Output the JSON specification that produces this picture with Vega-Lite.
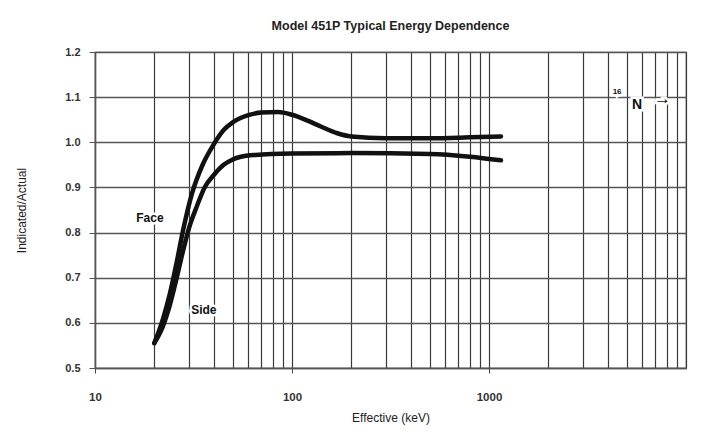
{
  "$schema": "https://vega.github.io/schema/vega-lite/v6.json",
  "width": 591,
  "height": 316,
  "autosize": {"type": "none"},
  "padding": {"left": 95, "top": 52, "right": 16, "bottom": 75},
  "background": "white",
  "title": {
    "text": "Model 451P Typical Energy Dependence",
    "font": "Liberation Sans",
    "fontSize": 12.5,
    "fontWeight": "bold",
    "color": "#222",
    "offset": 14
  },
  "datasets": {
    "curves": [
      {"curve": "Face", "energy": 20, "ratio": 0.555},
      {"curve": "Face", "energy": 22, "ratio": 0.605},
      {"curve": "Face", "energy": 24, "ratio": 0.665},
      {"curve": "Face", "energy": 26, "ratio": 0.735},
      {"curve": "Face", "energy": 28, "ratio": 0.805},
      {"curve": "Face", "energy": 31, "ratio": 0.885},
      {"curve": "Face", "energy": 35, "ratio": 0.948},
      {"curve": "Face", "energy": 40, "ratio": 0.995},
      {"curve": "Face", "energy": 45, "ratio": 1.027},
      {"curve": "Face", "energy": 50, "ratio": 1.044},
      {"curve": "Face", "energy": 60, "ratio": 1.06},
      {"curve": "Face", "energy": 70, "ratio": 1.066},
      {"curve": "Face", "energy": 85, "ratio": 1.067},
      {"curve": "Face", "energy": 100, "ratio": 1.061},
      {"curve": "Face", "energy": 120, "ratio": 1.048},
      {"curve": "Face", "energy": 140, "ratio": 1.035},
      {"curve": "Face", "energy": 170, "ratio": 1.02},
      {"curve": "Face", "energy": 200, "ratio": 1.013},
      {"curve": "Face", "energy": 300, "ratio": 1.009},
      {"curve": "Face", "energy": 500, "ratio": 1.009},
      {"curve": "Face", "energy": 800, "ratio": 1.011},
      {"curve": "Face", "energy": 1150, "ratio": 1.013},
      {"curve": "Side", "energy": 20, "ratio": 0.555},
      {"curve": "Side", "energy": 22, "ratio": 0.59},
      {"curve": "Side", "energy": 24, "ratio": 0.64},
      {"curve": "Side", "energy": 26, "ratio": 0.7},
      {"curve": "Side", "energy": 28, "ratio": 0.76},
      {"curve": "Side", "energy": 30, "ratio": 0.81},
      {"curve": "Side", "energy": 33, "ratio": 0.86},
      {"curve": "Side", "energy": 36, "ratio": 0.9},
      {"curve": "Side", "energy": 40, "ratio": 0.927},
      {"curve": "Side", "energy": 45, "ratio": 0.95},
      {"curve": "Side", "energy": 50, "ratio": 0.962},
      {"curve": "Side", "energy": 55, "ratio": 0.968},
      {"curve": "Side", "energy": 65, "ratio": 0.972},
      {"curve": "Side", "energy": 100, "ratio": 0.975},
      {"curve": "Side", "energy": 200, "ratio": 0.976},
      {"curve": "Side", "energy": 500, "ratio": 0.974},
      {"curve": "Side", "energy": 800, "ratio": 0.968},
      {"curve": "Side", "energy": 1150, "ratio": 0.96}
    ],
    "labels": [
      {"label": "Face", "energy": 19, "ratio": 0.832, "size": 12},
      {"label": "Side", "energy": 35.7, "ratio": 0.628, "size": 12},
      {"label": "16", "energy": 4470, "ratio": 1.111, "size": 8},
      {"label": "N", "energy": 5640, "ratio": 1.083, "size": 14},
      {"label": "→", "energy": 7600, "ratio": 1.096, "size": 17}
    ]
  },
  "encoding": {
    "x": {
      "field": "energy",
      "type": "quantitative",
      "scale": {"type": "log", "domain": [10, 10000], "nice": false},
      "axis": {
        "title": "Effective (keV)",
        "values": [10, 20, 30, 40, 50, 60, 70, 80, 90, 100, 200, 300, 400, 500, 600, 700, 800, 900, 1000, 2000, 3000, 4000, 5000, 6000, 7000, 8000, 9000, 10000],
        "format": "d",
        "labelExpr": "(datum.value == 10 || datum.value == 100 || datum.value == 1000) ? datum.label : ''",
        "grid": true,
        "gridColor": "#3a3a3a",
        "gridWidth": 1.2,
        "tickOpacity": {"condition": {"test": "datum.value == 10 || datum.value == 100 || datum.value == 1000", "value": 1}, "value": 0},
        "tickSize": 5,
        "tickColor": "#444",
        "domainColor": "#555",
        "domainWidth": 1.5,
        "labelPadding": 18,
        "labelFont": "Liberation Sans",
        "labelFontSize": 11.5,
        "labelFontWeight": "bold",
        "labelColor": "#333",
        "labelFlush": false,
        "titleFont": "Liberation Sans",
        "titleFontSize": 12,
        "titleFontWeight": "normal",
        "titleColor": "#222",
        "titlePadding": 10
      }
    },
    "y": {
      "field": "ratio",
      "type": "quantitative",
      "scale": {"domain": [0.5, 1.2], "nice": false, "zero": false},
      "axis": {
        "title": "Indicated/Actual",
        "values": [0.5, 0.6, 0.7, 0.8, 0.9, 1.0, 1.1, 1.2],
        "format": ".1f",
        "grid": true,
        "gridColor": "#555",
        "gridWidth": 1.4,
        "tickSize": 6,
        "tickColor": "#555",
        "domainColor": "#555",
        "domainWidth": 1.5,
        "labelPadding": 9,
        "labelFont": "Liberation Sans",
        "labelFontSize": 11,
        "labelFontWeight": "bold",
        "labelColor": "#333",
        "labelFlush": false,
        "titleFont": "Liberation Sans",
        "titleFontSize": 12,
        "titleFontWeight": "normal",
        "titleColor": "#222",
        "titlePadding": 36
      }
    }
  },
  "layer": [
    {
      "data": {"name": "curves"},
      "mark": {"type": "line", "stroke": "#111", "strokeWidth": 4.5, "interpolate": "monotone", "strokeCap": "round"},
      "encoding": {"detail": {"field": "curve"}}
    },
    {
      "data": {"name": "labels"},
      "mark": {"type": "text", "font": "Liberation Sans", "fontWeight": "bold", "fill": "white", "stroke": "white", "strokeWidth": 5, "align": "center", "baseline": "middle"},
      "encoding": {"text": {"field": "label"}, "size": {"field": "size", "type": "quantitative", "scale": null}}
    },
    {
      "data": {"name": "labels"},
      "mark": {"type": "text", "font": "Liberation Sans", "fontWeight": "bold", "fill": "#111", "align": "center", "baseline": "middle"},
      "encoding": {"text": {"field": "label"}, "size": {"field": "size", "type": "quantitative", "scale": null}}
    }
  ],
  "config": {
    "view": {"stroke": "#444", "strokeWidth": 1.2}
  }
}
